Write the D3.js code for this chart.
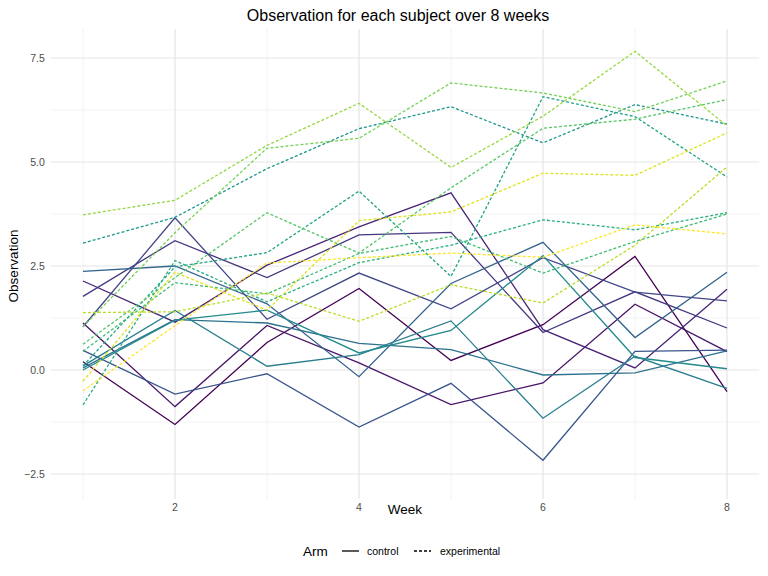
<!DOCTYPE html>
<html>
<head>
<meta charset="utf-8">
<script src="https://cdn.jsdelivr.net/npm/d3@7"></script>
<style>
  body { margin: 0; background: #fff; font-family: "Liberation Sans", Arial, sans-serif; }
</style>
</head>
<body>
<div class="chart"></div>
<script>
var weeks = [1, 2, 3, 4, 5, 6, 7, 8];
var yTicks = [-2.5, 0, 2.5, 5, 7.5];

// control subjects
var control = [
  [0.20, -1.31, 0.66, 1.96, 0.23, 1.09, 2.73, -0.52],
  [1.13, -0.88, 1.07, 0.17, -0.83, -0.31, 1.58, 0.44],
  [2.14, 1.15, 2.52, 3.44, 4.26, 0.97, 0.05, 1.94],
  [1.77, 3.11, 2.22, 3.25, 3.31, 0.90, 1.88, 1.01],
  [1.04, 3.66, 1.22, 2.33, 1.47, 2.70, 1.87, 1.66],
  [0.47, -0.58, -0.09, -1.37, -0.32, -2.17, 0.45, 0.48],
  [2.37, 2.50, 1.59, -0.16, 2.08, 3.07, 0.78, 2.35],
  [0.05, 1.21, 1.13, 0.64, 0.49, -0.12, -0.07, 0.46],
  [0.10, 1.43, 0.09, 0.37, 1.18, -1.16, 0.33, -0.44],
  [0.00, 1.20, 1.44, 0.41, 0.95, 2.75, 0.30, 0.03]
];

// experimental subjects
var experimental = [
  [3.05, 3.67, 4.84, 5.80, 6.33, 5.46, 6.38, 5.91],
  [0.10, 2.48, 2.82, 4.30, 2.25, 6.57, 6.09, 4.64],
  [-0.84, 2.63, 1.64, 2.58, 3.00, 3.61, 3.37, 3.78],
  [0.45, 2.10, 1.83, 2.80, 3.21, 2.33, 3.09, 3.75],
  [0.62, 2.22, 3.78, 2.81, 4.38, 5.81, 6.03, 6.50],
  [1.04, 3.30, 5.33, 5.57, 6.90, 6.66, 6.21, 6.95],
  [3.73, 4.08, 5.40, 6.41, 4.87, 6.10, 7.66, 5.87],
  [1.38, 1.40, 1.85, 1.17, 2.05, 1.61, 3.00, 4.88],
  [-0.27, 2.35, 1.44, 3.59, 3.80, 4.73, 4.68, 5.70],
  [-0.50, 1.07, 2.57, 2.70, 2.81, 2.71, 3.49, 3.27]
];

var svgWidth = 768, svgHeight = 576;
var svg = d3.select(".chart").append("svg")
  .attr("width", svgWidth).attr("height", svgHeight);

var x = d3.scaleLinear().domain([1, 8]).range([83, 727]);
var y = d3.scaleLinear().domain([-2.5, 7.5]).range([474, 58]);
var x0 = x(0.65), x1 = x(8.35), y0 = y(-3.1), y1 = y(8.2);

var grid = svg.append("g");
// minor grid
[1, 3, 5, 7].forEach(function (w) {
  grid.append("line").attr("x1", x(w)).attr("x2", x(w)).attr("y1", y0).attr("y2", y1)
    .attr("stroke", "#ebebeb").attr("stroke-width", 0.6);
});
[-1.25, 1.25, 3.75, 6.25].forEach(function (v) {
  grid.append("line").attr("x1", x0).attr("x2", x1).attr("y1", y(v)).attr("y2", y(v))
    .attr("stroke", "#ebebeb").attr("stroke-width", 0.6);
});
// major grid
[2, 4, 6, 8].forEach(function (w) {
  grid.append("line").attr("x1", x(w)).attr("x2", x(w)).attr("y1", y0).attr("y2", y1)
    .attr("stroke", "#e5e5e5").attr("stroke-width", 1.2);
});
yTicks.forEach(function (v) {
  grid.append("line").attr("x1", x0).attr("x2", x1).attr("y1", y(v)).attr("y2", y(v))
    .attr("stroke", "#e5e5e5").attr("stroke-width", 1.2);
});

// tick labels
svg.selectAll(".xt").data([2, 4, 6, 8]).enter().append("text")
  .attr("x", d => x(d)).attr("y", y0 + 12).attr("text-anchor", "middle")
  .style("font-size", "10.5px").style("fill", "#4d4d4d").text(d => d);
svg.selectAll(".yt").data(yTicks).enter().append("text")
  .attr("x", x0 - 6).attr("y", d => y(d) + 4).attr("text-anchor", "end")
  .style("font-size", "10.5px").style("fill", "#4d4d4d").text(d3.format(".1f"));

var line = d3.line().x((d, i) => x(weeks[i])).y(d => y(d));
var all = control.map(v => ({ v: v, arm: "control" }))
  .concat(experimental.map(v => ({ v: v, arm: "experimental" })));

svg.append("g").selectAll("path").data(all).enter().append("path")
  .attr("d", d => line(d.v))
  .attr("fill", "none")
  .attr("stroke", (d, i) => d3.interpolateViridis(i / (all.length - 1)))
  .attr("stroke-width", 1.3)
  .attr("stroke-dasharray", d => d.arm === "control" ? null : "3,2");

// titles
svg.append("text").attr("x", 398).attr("y", 21).attr("text-anchor", "middle")
  .style("font-size", "16px").text("Observation for each subject over 8 weeks");
svg.append("text").attr("x", x(4.5)).attr("y", 514).attr("text-anchor", "middle")
  .style("font-size", "13.5px").text("Week");
svg.append("text").attr("transform", "translate(18," + y(2.5) + ") rotate(-90)")
  .attr("text-anchor", "middle").style("font-size", "13.5px").text("Observation");

// legend
var lg = svg.append("g");
lg.append("text").attr("x", 303).attr("y", 556).style("font-size", "13.5px").text("Arm");
lg.append("line").attr("x1", 342).attr("x2", 359).attr("y1", 551).attr("y2", 551)
  .attr("stroke", "#000").attr("stroke-width", 1.3);
lg.append("text").attr("x", 367).attr("y", 555).style("font-size", "10.5px").text("control");
lg.append("line").attr("x1", 414).attr("x2", 431).attr("y1", 551).attr("y2", 551)
  .attr("stroke", "#000").attr("stroke-width", 1.3).attr("stroke-dasharray", "3,2");
lg.append("text").attr("x", 440).attr("y", 555).style("font-size", "10.5px").text("experimental");
</script>
</body>
</html>
